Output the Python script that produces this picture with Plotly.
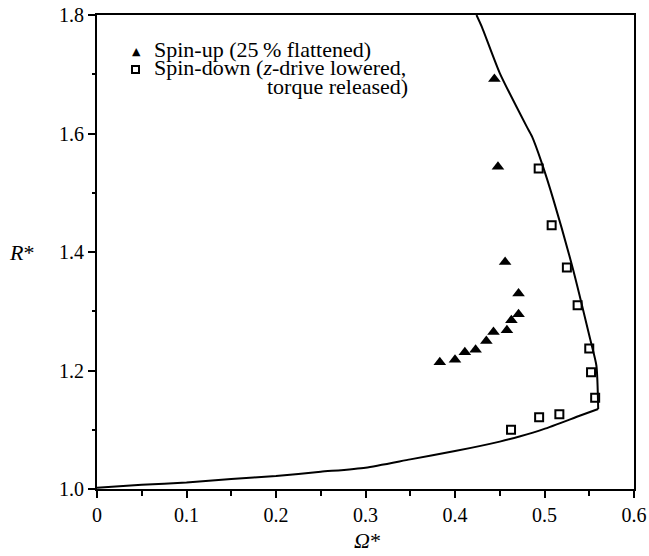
import plotly.graph_objects as go

# Spin-up (25 % flattened) data
spinup_omega = [0.444, 0.448, 0.456, 0.471, 0.471, 0.463, 0.458, 0.443, 0.435, 0.423, 0.411, 0.400, 0.383]
spinup_R = [1.692, 1.544, 1.383, 1.330, 1.295, 1.285, 1.268, 1.265, 1.250, 1.235, 1.231, 1.218, 1.214]

# Spin-down (z-drive lowered, torque released) data
spindown_omega = [0.4935, 0.508, 0.525, 0.537, 0.550, 0.552, 0.5566, 0.5166, 0.494, 0.4626]
spindown_R = [1.541, 1.445, 1.374, 1.310, 1.237, 1.197, 1.154, 1.126, 1.121, 1.100]

# Theoretical curve: lower branch (left to the corner) and upper branch (corner to top)
lower_omega = [0.0, 0.05, 0.1, 0.15, 0.2, 0.25, 0.3, 0.35, 0.4, 0.45, 0.473, 0.499, 0.54, 0.560]
lower_R = [1.002, 1.007, 1.011, 1.017, 1.022, 1.029, 1.036, 1.050, 1.064, 1.080, 1.089, 1.101, 1.124, 1.135]
upper_omega = [0.560, 0.558, 0.551, 0.532, 0.510, 0.497, 0.486, 0.480, 0.450, 0.430, 0.424]
upper_R = [1.135, 1.208, 1.253, 1.370, 1.488, 1.550, 1.595, 1.612, 1.702, 1.780, 1.800]

x_tickvals = [0, 0.1, 0.2, 0.3, 0.4, 0.5, 0.6]
x_ticktext = ["0", "0.1", "0.2", "0.3", "0.4", "0.5", "0.6"]
y_tickvals = [1.0, 1.2, 1.4, 1.6, 1.8]
y_ticktext = ["1.0", "1.2", "1.4", "1.6", "1.8"]

legend_lines = ["Spin-up (25\u2009% flattened)", "Spin-down (<i>z</i>-drive lowered,", "torque released)"]

FONT = "Liberation Serif, Times New Roman, serif"

fig = go.Figure()
for xs, ys in [(lower_omega, lower_R), (upper_omega, upper_R)]:
    fig.add_trace(go.Scatter(x=xs, y=ys, mode="lines", line=dict(color="black", width=2,
                             shape="spline", smoothing=0.6), showlegend=False))
fig.add_trace(go.Scatter(x=spinup_omega, y=spinup_R, mode="markers",
                         marker=dict(symbol="triangle-up", size=11, color="black"), showlegend=False))
fig.add_trace(go.Scatter(x=spindown_omega, y=spindown_R, mode="markers",
                         marker=dict(symbol="square-open", size=8, color="black", line=dict(width=2)),
                         showlegend=False))

axis_common = dict(showgrid=False, zeroline=False, showline=True, linecolor="black", linewidth=2,
                   mirror=True, ticks="outside", tickcolor="black", tickwidth=2, ticklen=7,
                   automargin=False, ticklabeloverflow="allow",
                   tickfont=dict(family=FONT, size=20, color="black"))

fig.update_xaxes(range=[0, 0.6], tickvals=x_tickvals, ticktext=x_ticktext,
                 minor=dict(tickvals=[0.05, 0.15, 0.25, 0.35, 0.45, 0.55], ticks="outside",
                            ticklen=5, tickwidth=2, tickcolor="black"), **axis_common)
fig.update_yaxes(range=[1.0, 1.8], tickvals=y_tickvals, ticktext=y_ticktext,
                 minor=dict(tickvals=[1.1, 1.3, 1.5, 1.7], ticks="outside",
                            ticklen=3, tickwidth=2, tickcolor="black"), **axis_common)

annotations = [
    dict(text="<i>R</i>*", x=-0.14, y=0.5, xref="paper", yref="paper", showarrow=False,
         font=dict(family=FONT, size=22, color="black"), xanchor="center", yanchor="middle"),
    dict(text="<i>Ω</i>*", x=0.503, y=-0.108, xref="paper", yref="paper", showarrow=False,
         font=dict(family=FONT, size=22, color="black"), xanchor="center", yanchor="middle"),
    dict(text=legend_lines[0], x=0.102, y=0.928, xref="paper", yref="paper", showarrow=False,
         font=dict(family=FONT, size=22, color="black"), xanchor="left", yanchor="middle"),
    dict(text=legend_lines[1], x=0.102, y=0.889, xref="paper", yref="paper", showarrow=False,
         font=dict(family=FONT, size=22, color="black"), xanchor="left", yanchor="middle"),
    dict(text=legend_lines[2], x=0.583, y=0.850, xref="paper", yref="paper", showarrow=False,
         font=dict(family=FONT, size=22, color="black"), xanchor="right", yanchor="middle"),
    dict(text="▲", x=0.0736, y=0.924, xref="paper", yref="paper", showarrow=False,
         font=dict(family="DejaVu Sans", size=11, color="black"), xanchor="center", yanchor="middle"),
    dict(text="&nbsp;", x=0.0717, y=0.884, xref="paper", yref="paper", showarrow=False,
         font=dict(family="DejaVu Sans", size=2, color="black"), width=5, height=5,
         bordercolor="black", borderwidth=2, borderpad=0, xanchor="center", yanchor="middle"),
]

fig.update_layout(width=649, height=556, margin=dict(l=97, r=15, t=15, b=67, autoexpand=False),
                  plot_bgcolor="white", paper_bgcolor="white", annotations=annotations,
                  font=dict(family=FONT, color="black"))

fig.write_html("out.html", config={"displayModeBar": False},
               post_script="document.body.style.margin='0';document.body.style.overflow='hidden';")
